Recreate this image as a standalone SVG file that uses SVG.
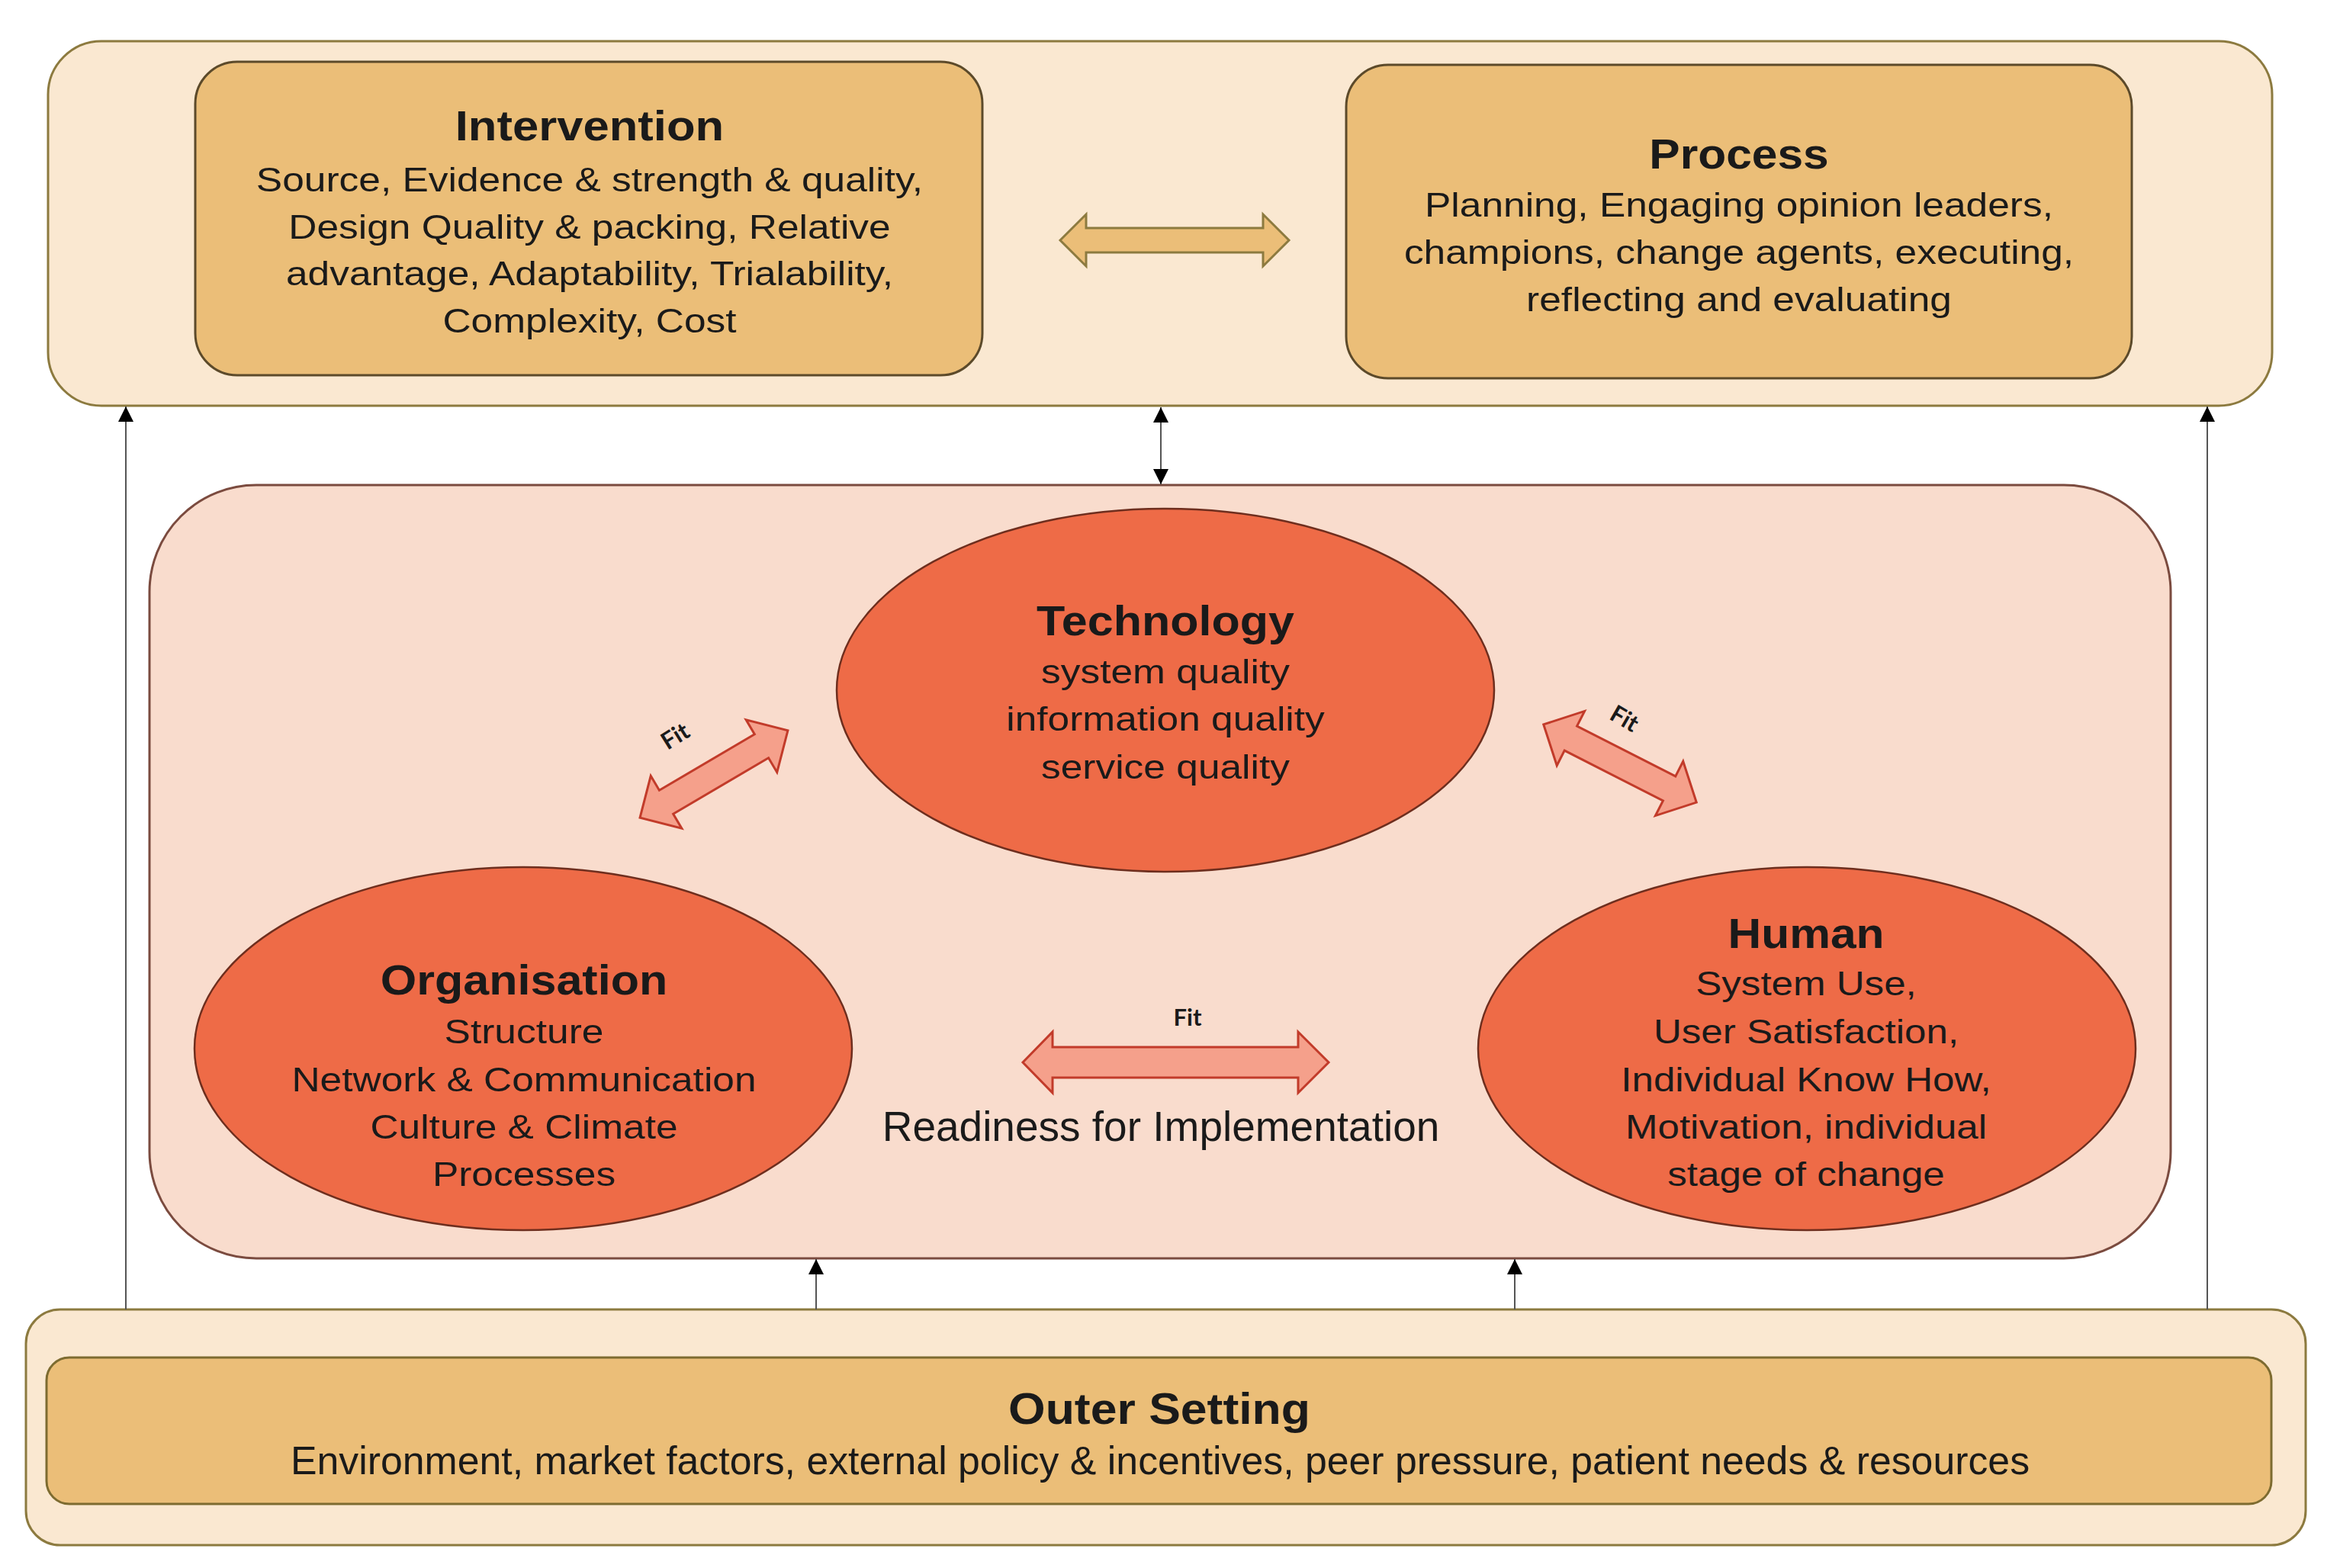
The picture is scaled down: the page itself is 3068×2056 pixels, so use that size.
<svg xmlns="http://www.w3.org/2000/svg" width="3068" height="2056" viewBox="0 0 3068 2056">
<style>
.t{font-family:"Liberation Sans",Arial,sans-serif;fill:#1a1a1a;text-anchor:middle}
.ti{font-weight:bold;font-size:56px}
.bd{font-size:45px}
.fit{font-family:Lato,"Open Sans",sans-serif;font-weight:bold;font-size:31px;fill:#1a1a1a;text-anchor:middle}
.cream{fill:#FAE8D1;stroke:#8C7A3F;stroke-width:3}
.tan{fill:#EBBE78;stroke:#5C4A2A;stroke-width:3}
.pink{fill:#F9DCCD;stroke:#7B4B3F;stroke-width:3}
.ell{fill:#EE6B47;stroke:#6E2E1E;stroke-width:2.5}
.fitarrow{fill:#F5A08B;stroke:#C23B2A;stroke-width:3;stroke-linejoin:miter}
.conn{stroke:#555;stroke-width:2;fill:none}
</style>
<defs>
<marker id="ah" viewBox="0 0 10 10" refX="10" refY="5" markerWidth="20" markerHeight="22" markerUnits="userSpaceOnUse" orient="auto-start-reverse">
<path d="M0,0 L10,5 L0,10 z" fill="#000"/>
</marker>
<polygon id="diag" points="-112.5,0 -72.5,-40 -72.5,-18 72.5,-18 72.5,-40 112.5,0 72.5,40 72.5,18 -72.5,18 -72.5,40"/>
</defs>

<g id="top-container">
<rect class="cream" x="63" y="54" width="2916" height="478" rx="70" ry="70"/>
</g>

<g id="intervention">
<rect class="tan" x="256" y="81" width="1032" height="411" rx="55" ry="55"/>
<g transform="translate(773 0)">
<text class="t ti" transform="scale(1.1 1)" x="0" y="184">Intervention</text>
<g transform="scale(1.144 1)">
<text class="t bd" x="0" y="251">Source, Evidence &amp; strength &amp; quality,</text>
<text class="t bd" x="0" y="313">Design Quality &amp; packing, Relative</text>
<text class="t bd" x="0" y="374">advantage, Adaptability, Trialability,</text>
<text class="t bd" x="0" y="436">Complexity, Cost</text>
</g>
</g>
</g>

<g id="process">
<rect class="tan" x="1765" y="85" width="1030" height="411" rx="55" ry="55"/>
<g transform="translate(2280 0)">
<text class="t ti" transform="scale(1.08 1)" x="0" y="221">Process</text>
<g transform="scale(1.144 1)">
<text class="t bd" x="0" y="284">Planning, Engaging opinion leaders,</text>
<text class="t bd" x="0" y="346">champions, change agents, executing,</text>
<text class="t bd" x="0" y="408">reflecting and evaluating</text>
</g>
</g>
</g>

<g id="middle-container">
<rect class="pink" x="196" y="636" width="2650" height="1014" rx="140" ry="140"/>
</g>

<g id="technology">
<ellipse class="ell" cx="1528" cy="905" rx="431" ry="238"/>
<g transform="translate(1528 0)">
<text class="t ti" transform="scale(1.09 1)" x="0" y="833">Technology</text>
<g transform="scale(1.144 1)">
<text class="t bd" x="0" y="896">system quality</text>
<text class="t bd" x="0" y="958">information quality</text>
<text class="t bd" x="0" y="1021">service quality</text>
</g>
</g>
</g>

<g id="organisation">
<ellipse class="ell" cx="686" cy="1375" rx="431" ry="238"/>
<g transform="translate(687 0)">
<text class="t ti" transform="scale(1.09 1)" x="0" y="1304">Organisation</text>
<g transform="scale(1.144 1)">
<text class="t bd" x="0" y="1368">Structure</text>
<text class="t bd" x="0" y="1431">Network &amp; Communication</text>
<text class="t bd" x="0" y="1493">Culture &amp; Climate</text>
<text class="t bd" x="0" y="1555">Processes</text>
</g>
</g>
</g>

<g id="human">
<ellipse class="ell" cx="2369" cy="1375" rx="431" ry="238"/>
<g transform="translate(2368 0)">
<text class="t ti" transform="scale(1.08 1)" x="0" y="1243">Human</text>
<g transform="scale(1.135 1)">
<text class="t bd" x="0" y="1305">System Use,</text>
<text class="t bd" x="0" y="1368">User Satisfaction,</text>
<text class="t bd" x="0" y="1431">Individual Know How,</text>
<text class="t bd" x="0" y="1493">Motivation, individual</text>
<text class="t bd" x="0" y="1555">stage of change</text>
</g>
</g>
</g>

<g id="readiness">
<text class="t" style="font-size:55px" x="1522" y="1496">Readiness for Implementation</text>
</g>

<g id="outer-setting">
<rect class="cream" x="34" y="1717" width="2989" height="309" rx="45" ry="45"/>
<rect class="tan" style="stroke:#7D6B30" x="61" y="1780" width="2917" height="192" rx="30" ry="30"/>
<g transform="translate(1520 0)">
<text class="t" style="font-weight:bold;font-size:58px" transform="scale(1.078 1)" x="0" y="1867">Outer Setting</text>
</g>
<text class="t" style="font-size:51.8px" x="1521" y="1933">Environment, market factors, external policy &amp; incentives, peer pressure, patient needs &amp; resources</text>
</g>

<g id="connectors">
<polygon points="1390,315 1424,281 1424,299 1656,299 1656,281 1690,315 1656,349 1656,331 1424,331 1424,349" fill="#EBBE78" stroke="#8C7A3F" stroke-width="3"/>
<line class="conn" x1="165" y1="1717" x2="165" y2="533" marker-end="url(#ah)"/>
<line class="conn" x1="2894" y1="1717" x2="2894" y2="533" marker-end="url(#ah)"/>
<line class="conn" x1="1522" y1="534" x2="1522" y2="635" marker-start="url(#ah)" marker-end="url(#ah)"/>
<line class="conn" x1="1070" y1="1717" x2="1070" y2="1651" marker-end="url(#ah)"/>
<line class="conn" x1="1986" y1="1717" x2="1986" y2="1651" marker-end="url(#ah)"/>
<use href="#diag" class="fitarrow" transform="translate(936 1015) rotate(-30.5)"/>
<use href="#diag" class="fitarrow" transform="translate(2124 1001) rotate(27)"/>
<polygon class="fitarrow" points="1341,1393 1380,1353 1380,1373 1702,1373 1702,1353 1742,1393 1702,1433 1702,1413 1380,1413 1380,1433"/>
<text class="fit" transform="translate(885 965) rotate(-32)" x="0" y="11">Fit</text>
<text class="fit" transform="translate(2130 942) rotate(30)" x="0" y="11">Fit</text>
<text class="fit" x="1557" y="1345">Fit</text>
</g>
</svg>
